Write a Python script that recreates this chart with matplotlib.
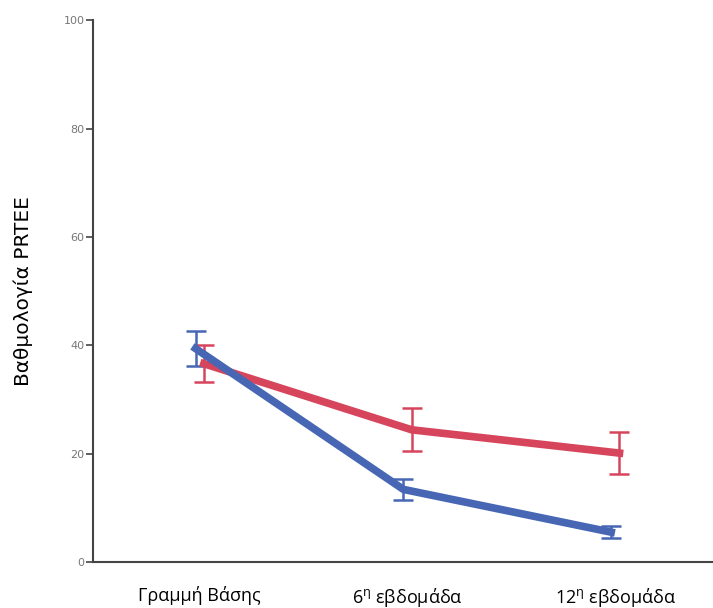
import matplotlib
matplotlib.use("Agg")
import matplotlib.pyplot as plt
import numpy as np

plt.rcParams["mathtext.default"] = "regular"

# timepoints on the x axis
labels = ["Γραμμή Βάσης", "6$^{\\eta}$ εβδομάδα", "12$^{\\eta}$ εβδομάδα"]

# group means and error bar half-widths
blue_mean = [39.4, 13.4, 5.5]
blue_err = [3.2, 1.9, 1.1]
red_mean = [36.6, 24.4, 20.1]
red_err = [3.4, 4.0, 3.9]

BLUE = "#4767b5"
RED = "#d6455c"

fig = plt.figure(figsize=(7.13, 6.08), dpi=100)
ax = fig.add_axes([0.130, 0.0757, 0.870, 0.891])

x = np.arange(len(labels))
ax.errorbar(x + 0.02, red_mean, yerr=red_err, color=RED, lw=5.5,
            elinewidth=1.8, capsize=7.5, capthick=1.8)
ax.errorbar(x - 0.02, blue_mean, yerr=blue_err, color=BLUE, lw=5.5,
            elinewidth=1.8, capsize=7.5, capthick=1.8)

ax.set_xlim(-0.515, 2.47)
ax.set_ylim(0, 100)
ax.set_yticks([0, 20, 40, 60, 80, 100])
ax.set_xticks(x)
ax.set_xticklabels(labels, fontsize=13, family=["Open Sans", "DejaVu Sans"])
ax.tick_params(axis="x", length=0, pad=17)
ax.tick_params(axis="y", length=5, width=1.2, color="#444444",
               labelsize=8, labelcolor="#777777", pad=1)

for side in ["top", "right"]:
    ax.spines[side].set_visible(False)
for side in ["left", "bottom"]:
    ax.spines[side].set_color("#444444")
    ax.spines[side].set_linewidth(1.5)

ax.set_ylabel("Βαθμολογία PRTEE", fontsize=14.5, labelpad=22)

fig.savefig("out.png", dpi=100)
